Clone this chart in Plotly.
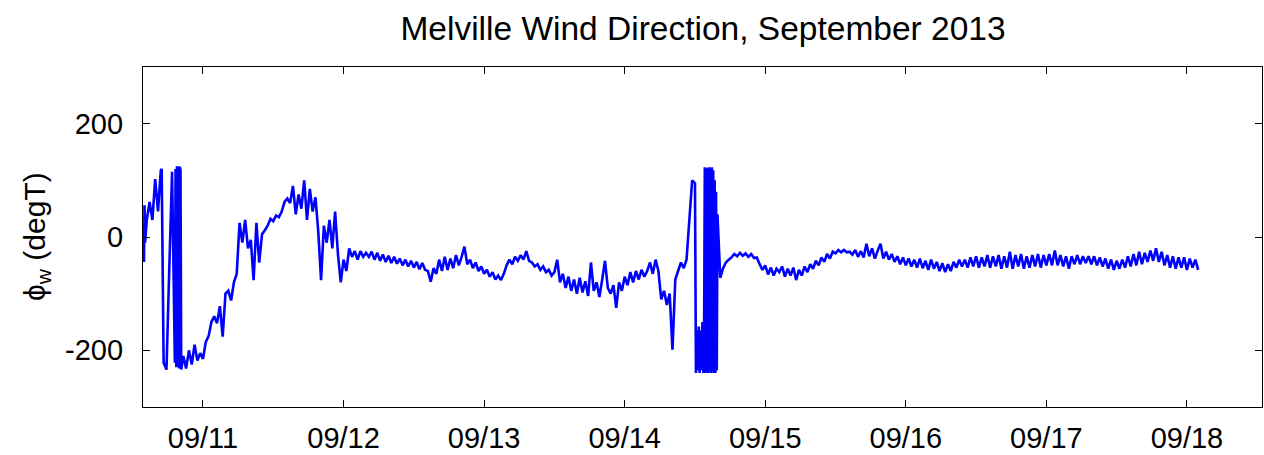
import numpy as np
import pandas as pd
import plotly.graph_objects as go

# ---- data: wind direction (degT), sampled every 0.02 day starting 10.58 (day of September 2013) ----
seg_a = [-44, 30, 62, 30, 102, 45, 118, -222, -234, -58, 115, -222, -228, 118,
         -210, -232, -200, -225, -190, -218, -205]
seg_b = [-215, -185, -175, -150, -140, -152, -122, -176, -100, -95, -112, -80, -65]
seg_c = [25, -10, 30, -20, -5, -76, 25, -45, 5, 12,
         20, 32, 28, 38, 35, 45, 62, 68, 60, 90,
         40, 75, 50, 100, 30, 85, 45, 70, 10, -76,
         20, -10, 30, -20, 45, -30, -80, -40, -60, -20,
         -35, -25, -40, -25, -35, -28, -35]
seg_d = [-26, -40, -28, -42, -31, -44, -33, -46, -35, -47,
         -38, -50, -40, -52, -42, -54, -44, -57, -46, -58,
         -60, -79, -55, -65, -40, -60, -35, -58, -38, -55,
         -32, -50, -35, -17, -48, -40, -55, -45, -60, -52,
         -65, -58, -70, -62, -75, -68, -76, -65, -50, -40,
         -48, -35, -42, -32, -40, -25, -42, -45, -52, -48,
         -58, -52, -62, -58, -68, -62, -40, -80, -65, -90,
         -70, -95, -75, -100, -72, -98, -78, -104, -45, -95,
         -80, -106, -75, -42, -90, -100, -85, -125, -80, -95,
         -70, -85, -62, -80, -60, -75, -58, -70, -60, -45,
         -65, -40, -60]
seg_e = [-110, -95, -120, -100, -199, -75, -60, -45, -55, -40, 30, 100, 95,
         -235, -165, -240, 120, 123, 123, 100, 40, -72]
seg_f = [-55, -45, -40, -36, -30, -34, -28, -33, -29, -35,
         -30, -37, -36, -48, -58, -50, -66, -54, -68, -56]
seg_g = [-62, -52, -70, -56, -68, -54, -76, -58, -68, -52,
         -62, -48, -56, -42, -50, -36, -44, -30, -38, -26,
         -29, -23, -27, -23, -27, -26, -31, -23, -35, -25,
         -36, -12, -34, -20, -38, -24, -12, -38, -26, -40,
         -30, -44, -34, -48, -36, -50, -38, -52, -40, -54,
         -38, -55, -42, -58, -40, -56, -44, -60, -46, -62,
         -48, -60, -44, -54, -40, -52, -40, -54, -36, -52,
         -34, -54, -36, -52, -32, -54, -34, -52, -32, -56,
         -34, -54, -26, -56, -32, -52, -30, -56, -34, -54,
         -32, -52, -30, -54, -32, -50, -30, -50, -24, -50,
         -32, -52, -34, -56, -34, -48, -32, -48, -34, -46,
         -34, -48, -34, -50, -36, -52, -38, -56, -40, -58,
         -42, -56, -40, -54, -34, -52, -30, -50, -26, -48,
         -28, -44, -24, -42, -20, -44, -26, -50, -32, -54,
         -34, -56, -36, -54, -36, -58, -38, -54, -40, -58]
base_vals = seg_a + seg_b + seg_c + seg_d + seg_e + seg_f + seg_g

# extra fast samples during the wild swings (day of September, degT)
burst_days = [10.584, 10.588, 10.706,
              10.805, 10.810, 10.815, 10.825, 10.830, 10.835, 10.845,
              14.507, 14.513, 14.527, 14.533, 14.547, 14.553, 14.565,
              14.570, 14.575, 14.585, 14.590, 14.595, 14.605, 14.610,
              14.615, 14.625, 14.630, 14.635, 14.645, 14.650, 14.655]
burst_vals = [56, -10, 120,
              120, -230, 125, 125, -232, 124, -234,
              -240, -165, -158, -240, -235, -150, -170,
              123, -240, -238, 122, -240, -235, 120,
              -240, -238, 118, -240, -240, 80, -235]

x_tickvals = [11, 12, 13, 14, 15, 16, 17, 18]
x_ticktext = ["09/11", "09/12", "09/13", "09/14", "09/15", "09/16", "09/17", "09/18"]
y_tickvals = [-200, 0, 200]
y_ticktext = ["-200", "0", "200"]

base_days = np.round(10.58 + 0.02 * np.arange(len(base_vals)), 4)
df = pd.DataFrame({"d": np.concatenate([base_days, burst_days]),
                   "v": base_vals + burst_vals}).sort_values("d", kind="mergesort")

font = "Liberation Sans, Arial, Helvetica, sans-serif"

fig = go.Figure()
fig.add_trace(go.Scatter(x=df["d"].tolist(), y=df["v"].tolist(), mode="lines",
                         line=dict(color="#0000FF", width=2.6, simplify=False),
                         showlegend=False))

fig.update_layout(
    template="none",
    width=1264, height=455,
    margin=dict(l=143, r=2, t=67, b=48, autoexpand=False),
    paper_bgcolor="white", plot_bgcolor="white",
    font=dict(family=font, size=29, color="black"),
    title=dict(text="Melville Wind Direction, September 2013",
               font=dict(family=font, size=33.5, color="black"),
               x=(703 - 143) / 1119, xref="paper", xanchor="center",
               y=1 - 28 / 455, yref="container", yanchor="middle"),
    xaxis=dict(range=[10.5732, 18.534], tickvals=x_tickvals, ticktext=x_ticktext,
               ticks="inside", ticklen=7, tickwidth=1.2, tickcolor="black",
               showline=True, linecolor="black", linewidth=1.2, mirror="ticks",
               showgrid=False, zeroline=False, automargin=False,
               tickfont=dict(family=font, size=29, color="black"),
               ticklabelstandoff=5),
    yaxis=dict(range=[-300, 300], tickvals=y_tickvals, ticktext=y_ticktext,
               ticks="inside", ticklen=7, tickwidth=1.2, tickcolor="black",
               showline=True, linecolor="black", linewidth=1.2, mirror="ticks",
               showgrid=False, zeroline=False, automargin=False,
               tickfont=dict(family=font, size=29, color="black"),
               ticklabelstandoff=13),
    annotations=[dict(text="ϕ<sub>w</sub> (degT)", textangle=-90,
                      xref="paper", yref="paper", x=(36 - 143) / 1119, y=0.5,
                      xanchor="center", yanchor="middle", showarrow=False,
                      font=dict(family=font, size=30, color="black"))],
)

fig.write_html("out.html")
